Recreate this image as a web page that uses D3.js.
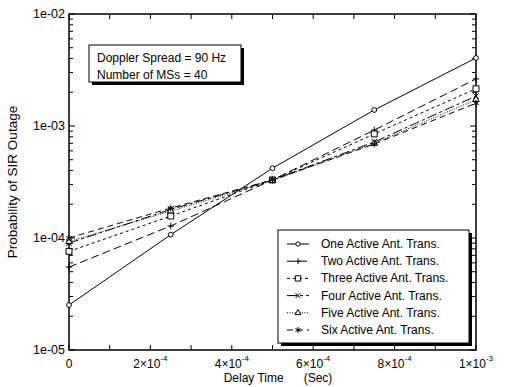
<!DOCTYPE html>
<html>
<head>
<meta charset="utf-8">
<script src="https://cdn.jsdelivr.net/npm/d3@7"></script>
<style>
  body { margin: 0; background: #fff; }
  svg { font-family: "Liberation Sans", Arial, sans-serif; }
</style>
</head>
<body>
<div id="chart"></div>
<script>
// delay times (sec)
const delays = [0, 2.5e-4, 5e-4, 7.5e-4, 1e-3];

const seriesNames = [
  'One Active Ant. Trans.',
  'Two Active Ant. Trans.',
  'Three Active Ant. Trans.',
  'Four Active Ant. Trans.',
  'Five Active Ant. Trans.',
  'Six Active Ant. Trans.'
];

const oneAnt   = [2.52e-5, 1.07e-4, 4.2e-4, 1.39e-3, 4.05e-3];
const twoAnt   = [5.5e-5, 1.28e-4, 3.3e-4, 9.2e-4, 2.63e-3];
const threeAnt = [7.6e-5, 1.57e-4, 3.3e-4, 8.5e-4, 2.15e-3];
const fourAnt  = [9.0e-5, 1.8e-4, 3.3e-4, 7.2e-4, 1.85e-3];
const fiveAnt  = [9.3e-5, 1.74e-4, 3.25e-4, 7.0e-4, 1.72e-3];
const sixAnt   = [1.0e-4, 1.85e-4, 3.3e-4, 6.9e-4, 1.6e-3];

const yTickValues = [1e-5, 1e-4, 1e-3, 1e-2];
const yTickLabels = ['1e-05', '1e-04', '1e-03', '1e-02'];
const xTickValues = [0, 2e-4, 4e-4, 6e-4, 8e-4, 1e-3];
const xTickLabels = [['0', ''], ['2×10', '-4'], ['4×10', '-4'], ['6×10', '-4'], ['8×10', '-4'], ['1×10', '-3']];

const infoLines = ['Doppler Spread = 90 Hz', 'Number of MSs = 40'];

const allSeries = [oneAnt, twoAnt, threeAnt, fourAnt, fiveAnt, sixAnt];
const dashes = [null, '8,4', '3,3', '10,3,3,3', '1,1.5', '6,4'];
const symbols = [d3.symbolCircle, d3.symbolPlus, d3.symbolSquare2, d3.symbolTimes, d3.symbolTriangle2, d3.symbolAsterisk];
const symSizes = [18, 16, 45, 22, 30, 30];

const width = 505, height = 387;
const pLeft = 69, pRight = 476, pTop = 14, pBottom = 350;

const svg = d3.select('#chart').append('svg')
  .attr('width', width).attr('height', height);

const x = d3.scaleLinear().domain([0, 1e-3]).range([pLeft, pRight]);
const y = d3.scaleLog().domain([1e-5, 1e-2]).range([pBottom, pTop]);

// minor ticks
const xMinor = d3.range(0, 11).map(i => i * 1e-4);
const yMinor = [];
for (let e = -5; e < -2; e++) for (let m = 1; m < 10; m++) yMinor.push(m * Math.pow(10, e));
yMinor.push(1e-2);

const tickG = svg.append('g').attr('stroke', '#000').attr('stroke-width', 1);
xMinor.forEach(v => {
  tickG.append('line').attr('x1', x(v)).attr('x2', x(v)).attr('y1', pBottom).attr('y2', pBottom - 5);
  tickG.append('line').attr('x1', x(v)).attr('x2', x(v)).attr('y1', pTop).attr('y2', pTop + 5);
});
yMinor.forEach(v => {
  const len = yTickValues.includes(v) ? 6 : 4;
  tickG.append('line').attr('x1', pLeft).attr('x2', pLeft + len).attr('y1', y(v)).attr('y2', y(v));
  tickG.append('line').attr('x1', pRight).attr('x2', pRight - len).attr('y1', y(v)).attr('y2', y(v));
});

// frame
svg.append('rect')
  .attr('x', pLeft).attr('y', pTop)
  .attr('width', pRight - pLeft).attr('height', pBottom - pTop)
  .attr('fill', 'none').attr('stroke', '#000').attr('stroke-width', 1.5);

// y tick labels
svg.append('g').selectAll('text').data(yTickValues).join('text')
  .attr('x', pLeft - 4).attr('y', d => y(d) + 4)
  .attr('text-anchor', 'end').attr('font-size', 12.5)
  .text((d, i) => yTickLabels[i]);

// x tick labels
const xl = svg.append('g').selectAll('text').data(xTickValues).join('text')
  .attr('x', d => x(d)).attr('y', pBottom + 18)
  .attr('text-anchor', 'middle').attr('font-size', 12);
xl.append('tspan').text((d, i) => xTickLabels[i][0]);
xl.append('tspan').attr('dy', -7).attr('font-size', 8).text((d, i) => xTickLabels[i][1]);

// axis titles
svg.append('text')
  .attr('x', 278).attr('y', 382).attr('text-anchor', 'middle').attr('font-size', 12)
  .attr('xml:space', 'preserve')
  .text('Delay Time      (Sec)');
svg.append('text')
  .attr('transform', `translate(17,${(pTop + pBottom) / 2}) rotate(-90)`)
  .attr('text-anchor', 'middle').attr('font-size', 13.5)
  .text('Probability of SIR Outage');

// lines
const line = d3.line().x((d, i) => x(delays[i])).y(d => y(d));
allSeries.forEach((s, k) => {
  svg.append('path').datum(s)
    .attr('d', line).attr('fill', 'none').attr('stroke', '#000').attr('stroke-width', 1)
    .attr('stroke-dasharray', dashes[k]);
});
allSeries.forEach((s, k) => {
  svg.append('g').selectAll('path').data(s).join('path')
    .attr('transform', (d, i) => `translate(${x(delays[i])},${y(d)})`)
    .attr('d', d3.symbol(symbols[k], symSizes[k]))
    .attr('fill', k === 0 || k === 2 || k === 4 ? '#fff' : 'none')
    .attr('stroke', '#000').attr('stroke-width', 1);
});

// info box
function shadowBox(bx, by, bw, bh) {
  svg.append('rect').attr('x', bx + 3).attr('y', by + 3).attr('width', bw).attr('height', bh).attr('fill', '#000');
  svg.append('rect').attr('x', bx).attr('y', by).attr('width', bw).attr('height', bh)
    .attr('fill', '#fff').attr('stroke', '#000').attr('stroke-width', 1);
}
shadowBox(89, 45, 152, 37);
svg.append('g').selectAll('text').data(infoLines).join('text')
  .attr('x', 97).attr('y', (d, i) => 62 + i * 17).attr('font-size', 12).text(d => d);

// legend
shadowBox(278, 230, 191, 113);
const lg = svg.append('g').selectAll('g').data(seriesNames).join('g')
  .attr('transform', (d, i) => `translate(0,${244 + i * 17.2})`);
lg.append('line').attr('x1', 287).attr('x2', 309).attr('y1', 0).attr('y2', 0)
  .attr('stroke', '#000').attr('stroke-width', 1)
  .attr('stroke-dasharray', (d, i) => dashes[i]);
lg.append('path')
  .attr('transform', 'translate(298,0)')
  .attr('d', (d, i) => d3.symbol(symbols[i], symSizes[i] * 0.8)())
  .attr('fill', (d, i) => i === 0 || i === 2 || i === 4 ? '#fff' : 'none')
  .attr('stroke', '#000').attr('stroke-width', 1);
lg.append('text').attr('x', 321).attr('y', 4).attr('font-size', 12).text(d => d);
</script>
</body>
</html>
